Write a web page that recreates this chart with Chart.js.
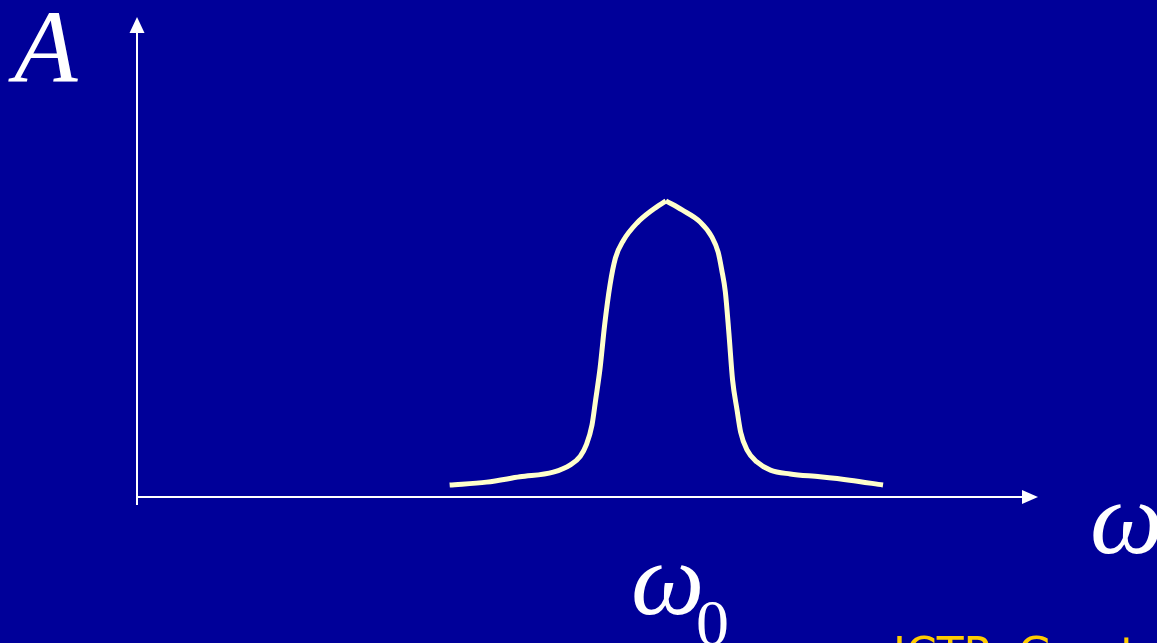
<!DOCTYPE html>
<html>
<head>
<meta charset="utf-8">
<title>Resonance</title>
<script src="https://cdn.jsdelivr.net/npm/chart.js@4/dist/chart.umd.min.js"></script>
<style>
  html, body { margin: 0; padding: 0; background: #000099; overflow: hidden; }
  #wrap { position: relative; width: 1157px; height: 643px; }
  #chart { position: absolute; left: 0; top: 0; }
  .lbl { position: absolute; line-height: 1; color: #fff; white-space: nowrap; }
  .serif { font-family: "Liberation Serif", Tinos, "Times New Roman", "DejaVu Serif", serif; }
  .it { font-style: italic; }
</style>
</head>
<body>
<div id="wrap">
  <canvas id="chart" width="1157" height="643"></canvas>
  <div class="lbl serif it" style="left:14px; top:-5px; font-size:104px;">A</div>
  <div class="lbl serif it" style="left:1090px; top:466px; font-size:104px;">ω</div>
  <div class="lbl serif it" style="left:631px; top:527px; font-size:104px;">ω</div>
  <div class="lbl serif" style="left:696px; top:590px; font-size:66px;">0</div>
  <div class="lbl" style="left:893px; top:632px; font-size:44px; color:#ffcc00; font-family:'DejaVu Sans', Verdana, sans-serif;">ICTP, Gerstner</div>
</div>
<script>
// Frequency axis 0..100, amplitude axis 0..100 (arbitrary units)
const X_MAX = 100;
const Y_MAX = 100;

// Left side of the resonance peak (up to ω0)
const leftOmega = [34.7, 38.8, 42.5, 46.2, 48.1, 49.2, 49.9, 50.5, 50.9, 51.4, 51.9, 52.5, 53.1, 54.0, 55.5, 57.2, 58.7];
const leftAmp   = [ 2.5,  3.1,  4.2,  5.2,  6.7,  8.5, 11.0, 15.0, 20.2, 26.9, 35.8, 44.2, 49.8, 53.5, 57.1, 59.8, 61.7];

// Right side of the resonance peak (from ω0)
const rightOmega = [58.7, 60.5, 62.5, 63.8, 64.5, 64.9, 65.3, 65.7, 66.1, 66.6, 67.0, 67.7, 68.8, 70.3, 72.5, 75.8, 79.1, 82.8];
const rightAmp   = [61.7, 59.8, 57.3, 54.2, 51.0, 47.3, 42.7, 34.0, 24.4, 18.1, 13.5,  9.8,  7.3,  5.6,  4.8,  4.2,  3.5,  2.5];

function toPoints(xs, ys) {
    return xs.map((x, i) => ({ x: x, y: ys[i] }));
}

// Axes with arrow heads, drawn from the scales
const arrowAxes = {
    id: 'arrowAxes',
    beforeDatasetsDraw(chart) {
        const ctx = chart.ctx;
        const xs = chart.scales.x, ys = chart.scales.y;
        const x0 = xs.getPixelForValue(0), x1 = xs.getPixelForValue(X_MAX);
        const y0 = ys.getPixelForValue(0), y1 = ys.getPixelForValue(Y_MAX);
        ctx.save();
        ctx.strokeStyle = '#ffffff';
        ctx.fillStyle = '#ffffff';
        ctx.lineWidth = 2;
        ctx.beginPath();
        ctx.moveTo(x0, y0 + 8);
        ctx.lineTo(x0, y1 + 14);
        ctx.moveTo(x0, y0);
        ctx.lineTo(x1 - 14, y0);
        ctx.stroke();
        // up arrow
        ctx.beginPath();
        ctx.moveTo(x0, y1);
        ctx.lineTo(x0 - 7.5, y1 + 16);
        ctx.lineTo(x0 + 7.5, y1 + 16);
        ctx.closePath();
        ctx.fill();
        // right arrow
        ctx.beginPath();
        ctx.moveTo(x1, y0);
        ctx.lineTo(x1 - 16, y0 - 7);
        ctx.lineTo(x1 - 16, y0 + 7);
        ctx.closePath();
        ctx.fill();
        ctx.restore();
    }
};

const curveStyle = {
    borderColor: '#ffffcc',
    borderWidth: 5,
    pointRadius: 0,
    cubicInterpolationMode: 'monotone',
    fill: false,
    clip: false,
    borderCapStyle: 'butt',
    borderJoinStyle: 'miter'
};

new Chart(document.getElementById('chart').getContext('2d'), {
    type: 'line',
    data: {
        datasets: [
            Object.assign({ label: 'left', data: toPoints(leftOmega, leftAmp) }, curveStyle),
            Object.assign({ label: 'right', data: toPoints(rightOmega, rightAmp) }, curveStyle)
        ]
    },
    options: {
        responsive: false,
        animation: false,
        layout: { padding: { left: 137, right: 119, top: 17, bottom: 146 } },
        plugins: { legend: { display: false }, tooltip: { enabled: false } },
        scales: {
            x: { type: 'linear', min: 0, max: X_MAX, display: false },
            y: { type: 'linear', min: 0, max: Y_MAX, display: false }
        }
    },
    plugins: [arrowAxes]
});
</script>
</body>
</html>
